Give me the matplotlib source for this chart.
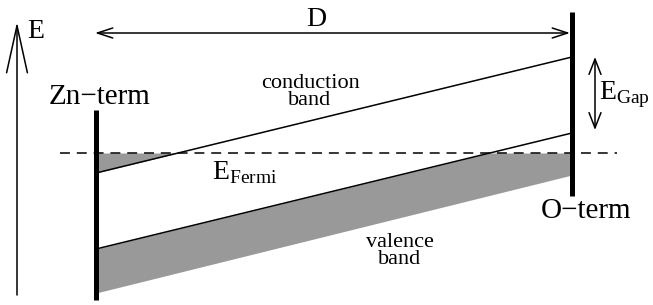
import numpy as np
import matplotlib.pyplot as plt
from matplotlib.patches import FancyArrowPatch

plt.rcParams['font.family'] = ['Liberation Serif', 'DejaVu Serif']
plt.rcParams['mathtext.fontset'] = 'custom'
plt.rcParams['mathtext.rm'] = 'Liberation Serif'

# diagram geometry, in pixels of the 653x305 picture (y grows downwards)
x_zn, x_o = 96, 572                 # terminating surfaces
zn_span = [110, 300]
o_span = [12, 196]
conduction = [173, 57]               # band edge at Zn side, O side
valence_top = [249, 133]
valence_bottom = [293, 175]
fermi = 153
fermi_span = [60, 617]
gap_arrow = [595, 57, 130]           # x, y top, y bottom
d_arrow = [95, 570, 33]              # x left, x right, y
e_arrow = [17, 295, 22]              # x, y bottom, y tip

fig = plt.figure(figsize=(6.53, 3.05), dpi=100)
ax = fig.add_axes([0, 0, 1, 1])
ax.set_xlim(0, 653)
ax.set_ylim(305, 0)
ax.axis('off')

x = np.linspace(x_zn, x_o, 400)
ct = np.interp(x, [x_zn, x_o], conduction)
vt = np.interp(x, [x_zn, x_o], valence_top)
vb = np.interp(x, [x_zn, x_o], valence_bottom)

gray = '#999999'
# filled states below the Fermi level
ax.fill_between(x, vb, np.maximum(vt, fermi), color=gray, lw=0)
ax.fill_between(x, fermi, ct, where=ct > fermi, interpolate=True, color=gray, lw=0)

ax.plot([x_zn, x_o], conduction, color='black', lw=1.1)
ax.plot([x_zn, x_o], valence_top, color='black', lw=1.1)
ax.plot(fermi_span, [fermi, fermi], color='black', lw=1.1, dashes=(6.5, 4.5))

ax.plot([x_zn, x_zn], zn_span, color='black', lw=3.6, solid_capstyle='butt')
ax.plot([x_o, x_o], o_span, color='black', lw=3.6, solid_capstyle='butt')

def arrow(p0, p1, style, hl, hw):
    ax.add_patch(FancyArrowPatch(p0, p1, arrowstyle=f'{style},head_length={hl},head_width={hw}',
                                 mutation_scale=1, color='black', lw=1.1,
                                 shrinkA=0, shrinkB=0))

arrow((d_arrow[0], d_arrow[2]), (d_arrow[1], d_arrow[2]), '<->', 11, 3.6)
arrow((gap_arrow[0], gap_arrow[1]), (gap_arrow[0], gap_arrow[2]), '<->', 11, 4.3)
arrow((e_arrow[0], e_arrow[1]), (e_arrow[0], e_arrow[2]), '->', 34, 7.5)

ax.text(27, 32, 'E', fontsize=20, va='center', ha='left')
ax.text(316, 19, 'D', fontsize=20, va='center', ha='center')
ax.text(100, 97, 'Zn\u2212term', fontsize=21, va='center', ha='center')
ax.text(586, 211, 'O\u2212term', fontsize=21, va='center', ha='center')
ax.text(310, 92, 'conduction\nband', fontsize=16, va='center', ha='center', linespacing=0.9)
ax.text(400, 251, 'valence\nband', fontsize=16, va='center', ha='center', linespacing=0.9)
ax.text(599, 95, r'E$_{\mathrm{Gap}}$', fontsize=20, va='center', ha='left')
ax.text(212, 173, r'E$_{\mathrm{Fermi}}$', fontsize=20, va='center', ha='left')

fig.savefig('out.png', dpi=100)
